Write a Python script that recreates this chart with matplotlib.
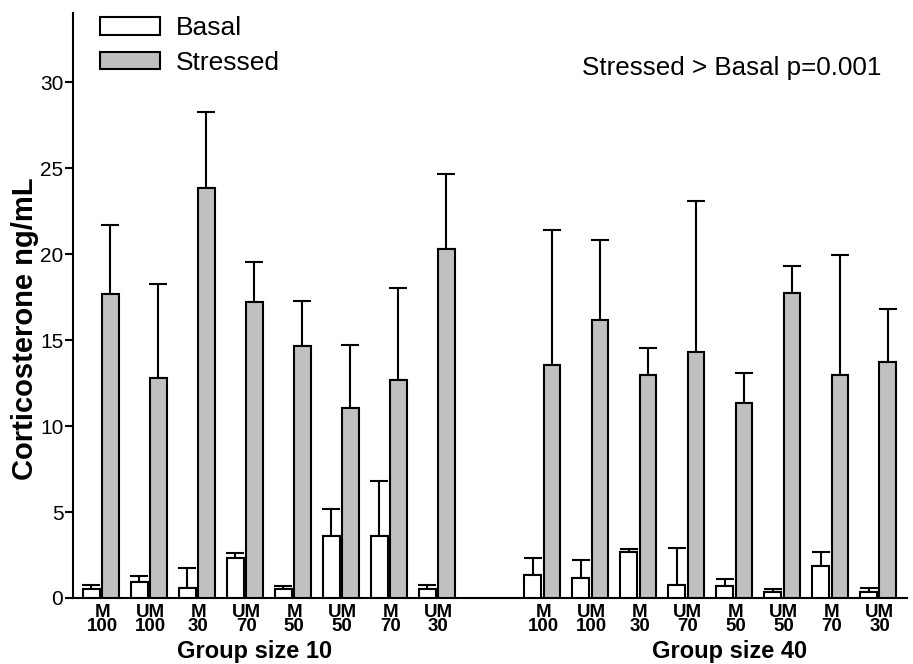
import numpy as np
import matplotlib.pyplot as plt

plt.rcParams['font.family'] = ['Liberation Sans', 'DejaVu Sans']

# treatment labels, same order in both group sizes
treatments = ["M\n100", "UM\n100", "M\n30", "UM\n70", "M\n50", "UM\n50", "M\n70", "UM\n30"]
groups = ["Group size 10", "Group size 40"]

# corticosterone ng/mL, mean and upper error
basal_10 = [0.55, 0.93, 0.58, 2.35, 0.55, 3.61, 3.59, 0.55]
basal_10_err = [0.19, 0.33, 1.15, 0.27, 0.15, 1.55, 3.21, 0.23]
stressed_10 = [17.70, 12.79, 23.84, 17.21, 14.63, 11.07, 12.66, 20.31]
stressed_10_err = [4.00, 5.45, 4.40, 2.31, 2.62, 3.66, 5.39, 4.36]

basal_40 = [1.36, 1.16, 2.67, 0.74, 0.70, 0.35, 1.88, 0.37]
basal_40_err = [0.97, 1.03, 0.18, 2.17, 0.39, 0.16, 0.79, 0.21]
stressed_40 = [13.57, 16.15, 12.95, 14.30, 11.34, 17.76, 12.99, 13.70]
stressed_40_err = [7.81, 4.69, 1.57, 8.80, 1.76, 1.52, 6.97, 3.12]

group_gap = 9.2
bar_w = 0.35
off = 0.2
gray = '#c0c0c0'

fig = plt.figure(figsize=(9.13, 6.64), dpi=100)
ax = fig.add_axes([0.080, 0.0994, 0.913, 0.8806])

pos_10 = np.arange(len(treatments))
pos_40 = pos_10 + group_gap
pos = np.concatenate([pos_10, pos_40])
basal = np.array(basal_10 + basal_40)
basal_err = np.array(basal_10_err + basal_40_err)
stressed = np.array(stressed_10 + stressed_40)
stressed_err = np.array(stressed_10_err + stressed_40_err)

ax.bar(pos - off, basal, bar_w, color='white', edgecolor='black', linewidth=1.5, label='Basal', zorder=3)
ax.bar(pos + off, stressed, bar_w, color=gray, edgecolor='black', linewidth=1.5, label='Stressed', zorder=3)
ax.errorbar(pos - off, basal, yerr=[np.zeros_like(basal), basal_err], fmt='none',
            ecolor='black', elinewidth=1.5, capsize=6.5, capthick=1.5, zorder=2)
ax.errorbar(pos + off, stressed, yerr=[np.zeros_like(stressed), stressed_err], fmt='none',
            ecolor='black', elinewidth=1.5, capsize=6.5, capthick=1.5, zorder=2)

ax.set_xlim(-0.58, 16.79)
ax.set_ylim(0, 34)
ax.set_yticks(np.arange(0, 31, 5))
ax.tick_params(axis='y', length=6, width=1.5, labelsize=15, pad=1)
ax.set_xticks([])
for s in ['top', 'right']:
    ax.spines[s].set_visible(False)
for s in ['left', 'bottom']:
    ax.spines[s].set_linewidth(1.5)

xt = ax.get_xaxis_transform()
for p, lab in zip(pos, treatments * 2):
    ax.text(p + 0.03, -0.010, lab, transform=xt, ha='center', va='top',
            fontsize=13.5, fontweight='bold', linespacing=0.75)

ax.text(3.2, -0.1026, groups[0], transform=xt, ha='center', va='baseline',
        fontsize=17, fontweight='bold')
ax.text(13.1, -0.1026, groups[1], transform=xt, ha='center', va='baseline',
        fontsize=17, fontweight='bold')

ax.set_ylabel('Corticosterone ng/mL', fontsize=21, fontweight='bold')
ax.yaxis.set_label_coords(-0.041, 0.46)

ax.legend(loc='upper left', bbox_to_anchor=(0.032, 0.995), frameon=False, fontsize=19,
          handlelength=2.3, handleheight=0.65, labelspacing=0.4, borderpad=0,
          borderaxespad=0, handletextpad=0.6)

ax.text(0.970, 0.894, 'Stressed > Basal p=0.001', transform=ax.transAxes,
        ha='right', va='baseline', fontsize=18.7)

plt.savefig('out.png', dpi=100)
plt.close()
